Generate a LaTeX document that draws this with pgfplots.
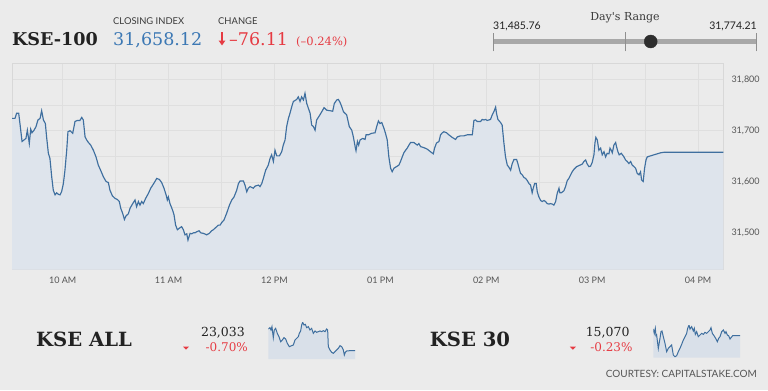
\documentclass[border=0pt]{standalone}
\usepackage{fontspec}
\setmainfont{Lato}
\newfontfamily\mw{DejaVu Serif}
\usepackage{pgfplots}
\pgfplotsset{compat=1.18}
\usepackage{pgfplotstable}
\usetikzlibrary{arrows.meta}
\definecolor{bg}{HTML}{EBEBEB}
\definecolor{gridc}{HTML}{DFDFDF}
\definecolor{framec}{HTML}{D8D8D8}
\definecolor{tickc}{HTML}{555555}
\definecolor{linec}{HTML}{3F6F9F}
\definecolor{fillc}{HTML}{DEE4EC}
\definecolor{sparkfill}{HTML}{D9E0E9}
\definecolor{bluec}{HTML}{3C78B4}
\definecolor{redc}{HTML}{E63B43}
\definecolor{titlec}{HTML}{222222}
\definecolor{labc}{HTML}{3A3A3A}
\definecolor{rangec}{HTML}{A8A8A8}
\definecolor{dotc}{HTML}{2E2E2E}

\pgfplotstableread{
t v
31.3 31724
33.0 31724
33.9 31734
35.1 31734
35.8 31714
37.0 31679
38.1 31682
39.2 31685
40.0 31701
40.7 31685
41.1 31675
41.9 31703
42.6 31696
43.8 31701
44.9 31708
46.0 31721
47.2 31724
48.1 31739
49.1 31721
50.2 31714
50.9 31688
51.9 31656
52.8 31646
53.8 31610
54.7 31584
55.7 31575
56.6 31579
57.6 31576
58.5 31575
59.4 31581
60.4 31597
61.3 31623
62.3 31662
63.0 31698
64.2 31700
65.7 31695
67.0 31718
68.3 31720
69.8 31720
70.8 31726
71.7 31721
72.7 31688
73.6 31682
74.6 31677
75.9 31672
77.4 31662
78.9 31649
80.2 31633
81.5 31623
83.1 31610
84.6 31601
85.9 31599
86.8 31584
88.2 31573
89.7 31568
91.0 31566
92.1 31562
92.9 31549
94.0 31539
95.0 31527
95.9 31534
97.2 31538
98.2 31549
99.7 31558
101.0 31565
101.9 31552
102.9 31562
103.8 31555
104.8 31562
105.7 31558
107.0 31568
108.6 31578
109.9 31588
111.4 31596
112.3 31601
113.3 31607
114.8 31605
116.1 31599
117.4 31588
118.6 31575
119.3 31565
119.9 31571
120.8 31558
122.3 31545
123.1 31536
124.0 31516
125.0 31507
126.1 31510
127.4 31513
128.4 31507
129.3 31497
130.3 31499
131.0 31487
132.2 31500
133.1 31499
134.1 31501
135.0 31501
135.9 31503
137.3 31505
138.2 31501
139.7 31500
141.6 31497
143.1 31500
144.4 31505
145.4 31507
146.3 31510
147.3 31513
148.2 31516
149.2 31516
150.1 31521
151.4 31526
152.9 31539
154.5 31555
155.8 31565
157.1 31571
158.6 31584
159.6 31597
160.5 31602
162.4 31602
163.3 31594
164.3 31581
165.2 31588
166.2 31591
168.0 31588
169.0 31592
170.9 31594
171.8 31591
172.8 31597
173.7 31607
175.0 31623
176.5 31633
177.5 31646
178.4 31653
179.4 31640
180.3 31662
181.3 31651
182.8 31651
184.1 31659
185.0 31672
186.0 31682
186.9 31708
187.9 31724
188.8 31734
189.8 31747
190.7 31757
191.7 31759
192.6 31761
193.5 31766
194.5 31757
195.4 31766
196.4 31760
197.3 31773
198.3 31753
199.2 31744
200.2 31734
201.1 31711
202.1 31708
203.0 31701
203.9 31721
205.4 31729
206.8 31737
208.1 31745
209.6 31740
211.5 31739
213.0 31738
213.9 31753
215.3 31760
216.2 31761
217.2 31755
218.1 31747
219.1 31737
220.9 31731
222.4 31708
223.8 31701
224.7 31688
225.7 31669
226.2 31661
227.0 31679
227.7 31672
228.5 31682
230.0 31685
231.3 31683
231.9 31692
233.2 31692
235.1 31695
237.0 31696
237.9 31708
238.9 31719
239.8 31714
240.8 31716
242.0 31705
242.9 31695
243.9 31682
244.8 31649
245.8 31627
246.7 31620
247.7 31627
249.6 31631
250.5 31633
251.4 31640
252.4 31649
253.3 31657
254.3 31662
255.2 31666
256.2 31672
257.1 31677
259.0 31677
260.9 31672
261.8 31675
262.8 31669
264.7 31667
266.6 31664
268.4 31659
270.0 31655
270.7 31666
271.8 31676
273.2 31679
274.1 31692
275.1 31696
276.0 31698
277.5 31696
278.8 31692
280.7 31687
282.6 31683
283.6 31688
285.4 31690
287.3 31690
289.2 31692
291.1 31692
292.1 31692
293.0 31720
293.9 31721
294.9 31718
296.8 31718
297.7 31722
298.7 31721
299.6 31722
300.5 31720
301.5 31721
302.4 31722
303.4 31731
304.3 31737
305.3 31746
305.8 31734
306.6 31722
308.1 31716
309.0 31711
310.0 31676
310.9 31649
311.9 31633
312.8 31629
313.8 31623
314.7 31636
315.7 31644
317.2 31644
317.9 31636
318.9 31623
319.4 31617
320.4 31614
321.3 31609
322.3 31607
323.2 31603
324.2 31597
325.1 31594
326.0 31579
326.6 31588
327.4 31597
328.3 31597
328.9 31581
329.8 31571
330.8 31564
331.7 31562
332.7 31564
333.6 31562
334.5 31558
335.5 31557
336.4 31558
337.4 31557
338.3 31555
339.3 31562
340.2 31578
341.2 31588
341.7 31579
342.5 31579
344.0 31583
344.9 31591
345.9 31603
346.8 31607
347.8 31614
348.7 31620
349.7 31625
351.2 31630
352.5 31632
354.4 31635
355.3 31640
356.3 31643
357.2 31635
358.2 31630
359.1 31631
360.0 31638
361.0 31653
361.6 31677
362.1 31687
362.9 31682
363.8 31662
364.8 31666
365.7 31653
366.7 31659
367.6 31649
368.5 31656
369.5 31655
370.1 31666
370.8 31662
371.4 31657
372.3 31672
373.3 31677
373.8 31669
374.6 31659
375.3 31653
376.5 31656
378.0 31649
378.9 31643
379.9 31640
380.8 31636
381.8 31640
382.7 31633
383.7 31630
384.6 31627
385.5 31617
386.5 31614
387.4 31620
388.0 31604
388.9 31601
389.7 31627
390.5 31643
391.2 31649
393.1 31651
395.9 31654
398.8 31657
400.7 31658
434.3 31658
}\kse

\pgfplotstableread{
i v
25 90
30 94
33 87
36 97
40 64
43 87
47 92
52 77
57 67
62 52
67 57
72 64
77 60
82 47
88 37
95 40
100 42
105 57
110 62
115 67
118 77
122 84
125 102
128 110
132 102
136 104
140 94
145 97
150 87
155 92
160 77
165 84
170 80
175 82
180 84
185 82
190 85
195 82
200 90
203 87
205 37
210 27
215 20
220 17
225 22
230 27
235 32
240 40
245 37
250 27
253 12
256 20
260 24
270 25
285 25
}\kseall

\pgfplotstableread{
i v
40 86
43 73
46 88
48 66
50 68
55 28
60 58
63 78
66 80
70 63
75 43
80 18
85 28
90 33
95 38
100 8
105 3
110 6
115 18
120 28
125 40
130 53
135 63
140 73
143 88
147 98
150 86
155 93
160 80
163 88
166 70
170 78
175 63
180 68
185 73
190 70
195 76
200 73
205 78
210 83
213 90
217 73
222 66
227 58
232 48
236 58
240 63
245 78
250 83
255 73
258 78
262 68
266 66
270 56
273 60
278 66
290 66
300 66
}\kseth

\begin{document}
\begin{tikzpicture}[x=1bp,y=1bp]
\fill[bg] (0,0) rectangle (768,390);

% header
\node[anchor=base west, inner sep=0pt, text=titlec, font=\mw\bfseries\fontsize{17.6bp}{20bp}\selectfont] at (12,345) {KSE-100};
\node[anchor=base west, inner sep=0pt, text=labc, font=\fontsize{9.4bp}{11bp}\selectfont] at (113,366) {CLOSING INDEX};
\node[anchor=base west, inner sep=0pt, text=bluec, font=\mw\fontsize{17.5bp}{20bp}\selectfont] at (113,345) {31,658.12};
\node[anchor=base west, inner sep=0pt, text=labc, font=\fontsize{9.4bp}{11bp}\selectfont] at (218,366) {CHANGE};
\draw[redc, line width=1.6bp, -{Triangle[width=6.5bp,length=5bp]}] (222,357.7) -- (222,344.5);
\node[anchor=base west, inner sep=0pt, text=redc, font=\mw\fontsize{17.5bp}{20bp}\selectfont] at (229,345) {–76.11};
\node[anchor=base west, inner sep=0pt, text=redc, font=\mw\fontsize{11.5bp}{13bp}\selectfont] at (296,345) {(–0.24\%)};

% day's range
\node[anchor=base, inner sep=0pt, text=labc, font=\mw\fontsize{11bp}{13bp}\selectfont] at (625,369.3) {Day's Range};
\node[anchor=base west, inner sep=0pt, text=titlec, font=\fontsize{10.5bp}{12bp}\selectfont] at (493,360.5) {31,485.76};
\node[anchor=base east, inner sep=0pt, text=titlec, font=\fontsize{10.5bp}{12bp}\selectfont] at (757,360.5) {31,774.21};
\begin{axis}[at={(493.3bp,338.5bp)}, anchor=south west, scale only axis, width=263.4bp, height=20bp,
  xmin=31485.76, xmax=31774.21, ymin=-1, ymax=1, hide axis, clip=false,
  xtick=\empty, ytick=\empty, scaled x ticks=false, scaled y ticks=false]
\addplot[rangec, line width=5.7bp] coordinates {(31485.76,0) (31774.21,0)};
\addplot[rangec!85!black, line width=0.9bp] coordinates {(31485.76,-1) (31485.76,0.82)};
\addplot[rangec!85!black, line width=0.9bp] coordinates {(31774.21,-1) (31774.21,0.82)};
\addplot[rangec!85!black, line width=0.9bp] coordinates {(31629.985,-1) (31629.985,0.98)};
\addplot[only marks, mark=*, mark size=6.5bp, dotc, mark options={fill=dotc, draw=dotc}] coordinates {(31658.12,0)};
\end{axis}

% main chart
\begin{axis}[at={(12bp,120.5bp)}, anchor=south west, scale only axis,
  width=711.3bp, height=206.2bp,
  xmin=31.3, xmax=434.3, ymin=31429.5, ymax=31831.4,
  scaled x ticks=false, scaled y ticks=false,
  xtick={60,120,...,420},
  xticklabels={10 AM,11 AM,12 PM,01 PM,02 PM,03 PM,04 PM},
  minor xtick={90,150,...,390},
  ytick={31500,31600,31700,31800},
  yticklabels={{31,500},{31,600},{31,700},{31,800}},
  minor ytick={31450,31550,31650,31750},
  yticklabel pos=right,
  grid=both,
  major grid style={gridc, line width=0.8bp},
  minor grid style={gridc, line width=0.8bp},
  major tick length=0pt, minor tick length=0pt,
  axis line style={framec, line width=0.8bp},
  tick label style={font=\fontsize{9bp}{10bp}\selectfont, text=tickc},
  xticklabel style={anchor=north, inner sep=0pt, yshift=-7bp},
  yticklabel style={anchor=west, inner sep=0pt, xshift=8bp},
  clip=true]
\addplot[fill=fillc, draw=none] table[x=t,y=v]{\kse} \closedcycle;
\addplot[linec, line width=1.15bp] table[x=t,y=v]{\kse};
\end{axis}

% bottom indices
\node[anchor=base west, inner sep=0pt, text=titlec, font=\mw\bfseries\fontsize{19.6bp}{23bp}\selectfont] at (36,43.3) {KSE ALL};
\node[anchor=base east, inner sep=0pt, text=titlec, font=\mw\fontsize{12.5bp}{14bp}\selectfont] at (245,53.3) {23,033};
\node[anchor=base east, inner sep=0pt, text=redc, font=\mw\fontsize{12bp}{14bp}\selectfont] at (248,38.3) {-0.70\%};
\fill[redc] (183,43.3) -- (189,43.3) -- (186,40.3) -- cycle;
\begin{axis}[at={(268.3bp,31bp)}, anchor=south west, scale only axis, width=86.7bp, height=36.7bp,
  xmin=25, xmax=285, ymin=0, ymax=110, hide axis]
\addplot[fill=sparkfill, draw=none] table[x=i,y=v]{\kseall} \closedcycle;
\addplot[linec, line width=1bp] table[x=i,y=v]{\kseall};
\end{axis}

\node[anchor=base west, inner sep=0pt, text=titlec, font=\mw\bfseries\fontsize{19.6bp}{23bp}\selectfont] at (429.7,43.3) {KSE 30};
\node[anchor=base east, inner sep=0pt, text=titlec, font=\mw\fontsize{12.5bp}{14bp}\selectfont] at (629.7,53.3) {15,070};
\node[anchor=base east, inner sep=0pt, text=redc, font=\mw\fontsize{12bp}{14bp}\selectfont] at (632.7,38.3) {-0.23\%};
\fill[redc] (569.8,43.3) -- (575.8,43.3) -- (572.8,40.3) -- cycle;
\begin{axis}[at={(653.3bp,32.3bp)}, anchor=south west, scale only axis, width=86.7bp, height=32.7bp,
  xmin=40, xmax=300, ymin=0, ymax=98, hide axis]
\addplot[fill=sparkfill, draw=none] table[x=i,y=v]{\kseth} \closedcycle;
\addplot[linec, line width=1bp] table[x=i,y=v]{\kseth};
\end{axis}

\node[anchor=base east, inner sep=0pt, text=tickc, font=\fontsize{10bp}{12bp}\selectfont] at (757,12.7) {COURTESY: CAPITALSTAKE.COM};

\pgfresetboundingbox
\path (0,0) rectangle (768,390);
\end{tikzpicture}
\end{document}
